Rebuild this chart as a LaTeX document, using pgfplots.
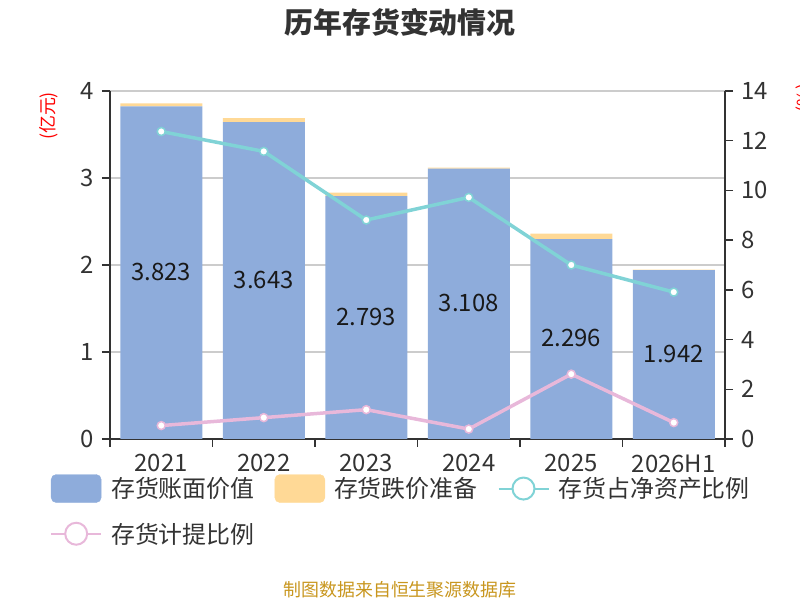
\documentclass[border=0pt]{standalone}
\usepackage{fontspec}
\setmainfont{Noto Sans CJK SC}
\usepackage{pgfplots}
\usepackage{pgfplotstable}
\pgfplotsset{compat=1.18}
\definecolor{cblue}{RGB}{142,172,219}
\definecolor{cyel}{RGB}{255,217,150}
\definecolor{cteal}{RGB}{128,211,214}
\definecolor{cpink}{RGB}{232,184,218}
\definecolor{caxis}{RGB}{51,51,51}
\definecolor{cgrid}{RGB}{204,204,204}
\definecolor{cfoot}{RGB}{200,150,30}
\pgfplotstableread{
x v y t p
0 3.823 0.035 12.37 0.54
1 3.643 0.045 11.57 0.86
2 2.793 0.038 8.81 1.18
3 3.108 0.012 9.72 0.40
4 2.296 0.064 7.00 2.61
5 1.942 0.004 5.91 0.66
}\data
\pgfplotsset{
  common/.style={
    at={(110bp,161bp)}, anchor=south west,
    scale only axis, width=615bp, height=348bp,
    xmin=-0.5, xmax=5.5,
    tick align=outside, major tick length=8bp, minor tick length=8bp,
    every tick/.style={caxis, line width=1.5bp},
    axis line style={caxis, line width=1.5bp},
    tick label style={font=\fontsize{24}{24}\selectfont, text=caxis},
    /pgf/number format/assume math mode=true,
  }
}
\begin{document}
\begin{tikzpicture}
\useasboundingbox (0bp,0bp) rectangle (800bp,600bp);
\begin{axis}[common,
  ymin=0, ymax=4, ytick={0,...,4},
  axis x line*=bottom, axis y line*=left,
  ybar stacked, bar width=0.8,
  xtick={0,...,5}, xticklabels={2021,2022,2023,2024,2025,2026H1},
  major x tick style={draw=none},
  minor xtick={-0.5,0.5,...,5.5},
  xticklabel style={yshift=-4bp},
  yticklabel style={xshift=-5bp},
  ymajorgrids, grid style={cgrid, line width=1.5bp},
]
\addplot[fill=cblue, draw=none] table[x=x,y=v]{\data};
\addplot[fill=cyel, draw=none] table[x=x,y=y]{\data};
\end{axis}
\begin{axis}[common,
  ymin=0, ymax=4, hide axis,
]
\addplot[draw=none, mark=none, nodes near coords, point meta=explicit symbolic,
  every node near coord/.style={anchor=center, yshift=1bp, font=\fontsize{24}{24}\selectfont, text=black!90}]
  table[x=x, y expr=\thisrow{v}/2, meta=v]{\data};
\end{axis}
\begin{axis}[common,
  ymin=0, ymax=14, ytick={0,2,...,14},
  axis x line=none, axis y line*=right,
  yticklabel style={xshift=5bp},
  legend columns=3,
  legend style={at={(-0.0976,-0.101)}, anchor=north west, draw=none, fill=none,
    inner sep=0pt, font=\fontsize{24}{24}\selectfont, text=caxis,
    nodes={inner sep=0pt},
    row sep=19bp,
    /tikz/every odd column/.append style={column sep=9bp},
    /tikz/every even column/.append style={column sep=20bp}},
  legend cell align=left,
]
\addlegendimage{legend image code/.code={\fill[cblue, rounded corners=5bp] (0bp,-14bp) rectangle (50bp,14bp);}}
\addlegendentry{存货账面价值}
\addlegendimage{legend image code/.code={\fill[cyel, rounded corners=5bp] (0bp,-14bp) rectangle (50bp,14bp);}}
\addlegendentry{存货跌价准备}
\addplot[cteal, line width=3.5bp, mark=*, mark size=4bp,
  mark options={fill=white, draw=cteal, line width=1.5bp},
  legend image code/.code={\draw[cteal, line width=2bp] (0bp,0bp) -- (50bp,0bp); \draw[cteal, line width=2bp, fill=white] (25bp,0bp) circle (11bp);}]
  table[x=x,y=t]{\data};
\addlegendentry{存货占净资产比例}
\addplot[cpink, line width=3.5bp, mark=*, mark size=4bp,
  mark options={fill=white, draw=cpink, line width=1.5bp},
  legend image code/.code={\draw[cpink, line width=2bp] (0bp,0bp) -- (50bp,0bp); \draw[cpink, line width=2bp, fill=white] (25bp,0bp) circle (11bp);}]
  table[x=x,y=p]{\data};
\addlegendentry{存货计提比例}
\end{axis}
\node[font=\fontsize{29}{29}\selectfont\bfseries, text=caxis] at (400bp,578bp) {历年存货变动情况};
\node[font=\fontsize{18}{18}\selectfont, text=red, rotate=90] at (49bp,484bp) {(亿元)};
\node[font=\fontsize{18}{18}\selectfont, text=red, rotate=90] at (805bp,502bp) {(\%)};
\node[font=\fontsize{18}{18}\selectfont, text=cfoot] at (400bp,10bp) {制图数据来自恒生聚源数据库};
\end{tikzpicture}
\end{document}
